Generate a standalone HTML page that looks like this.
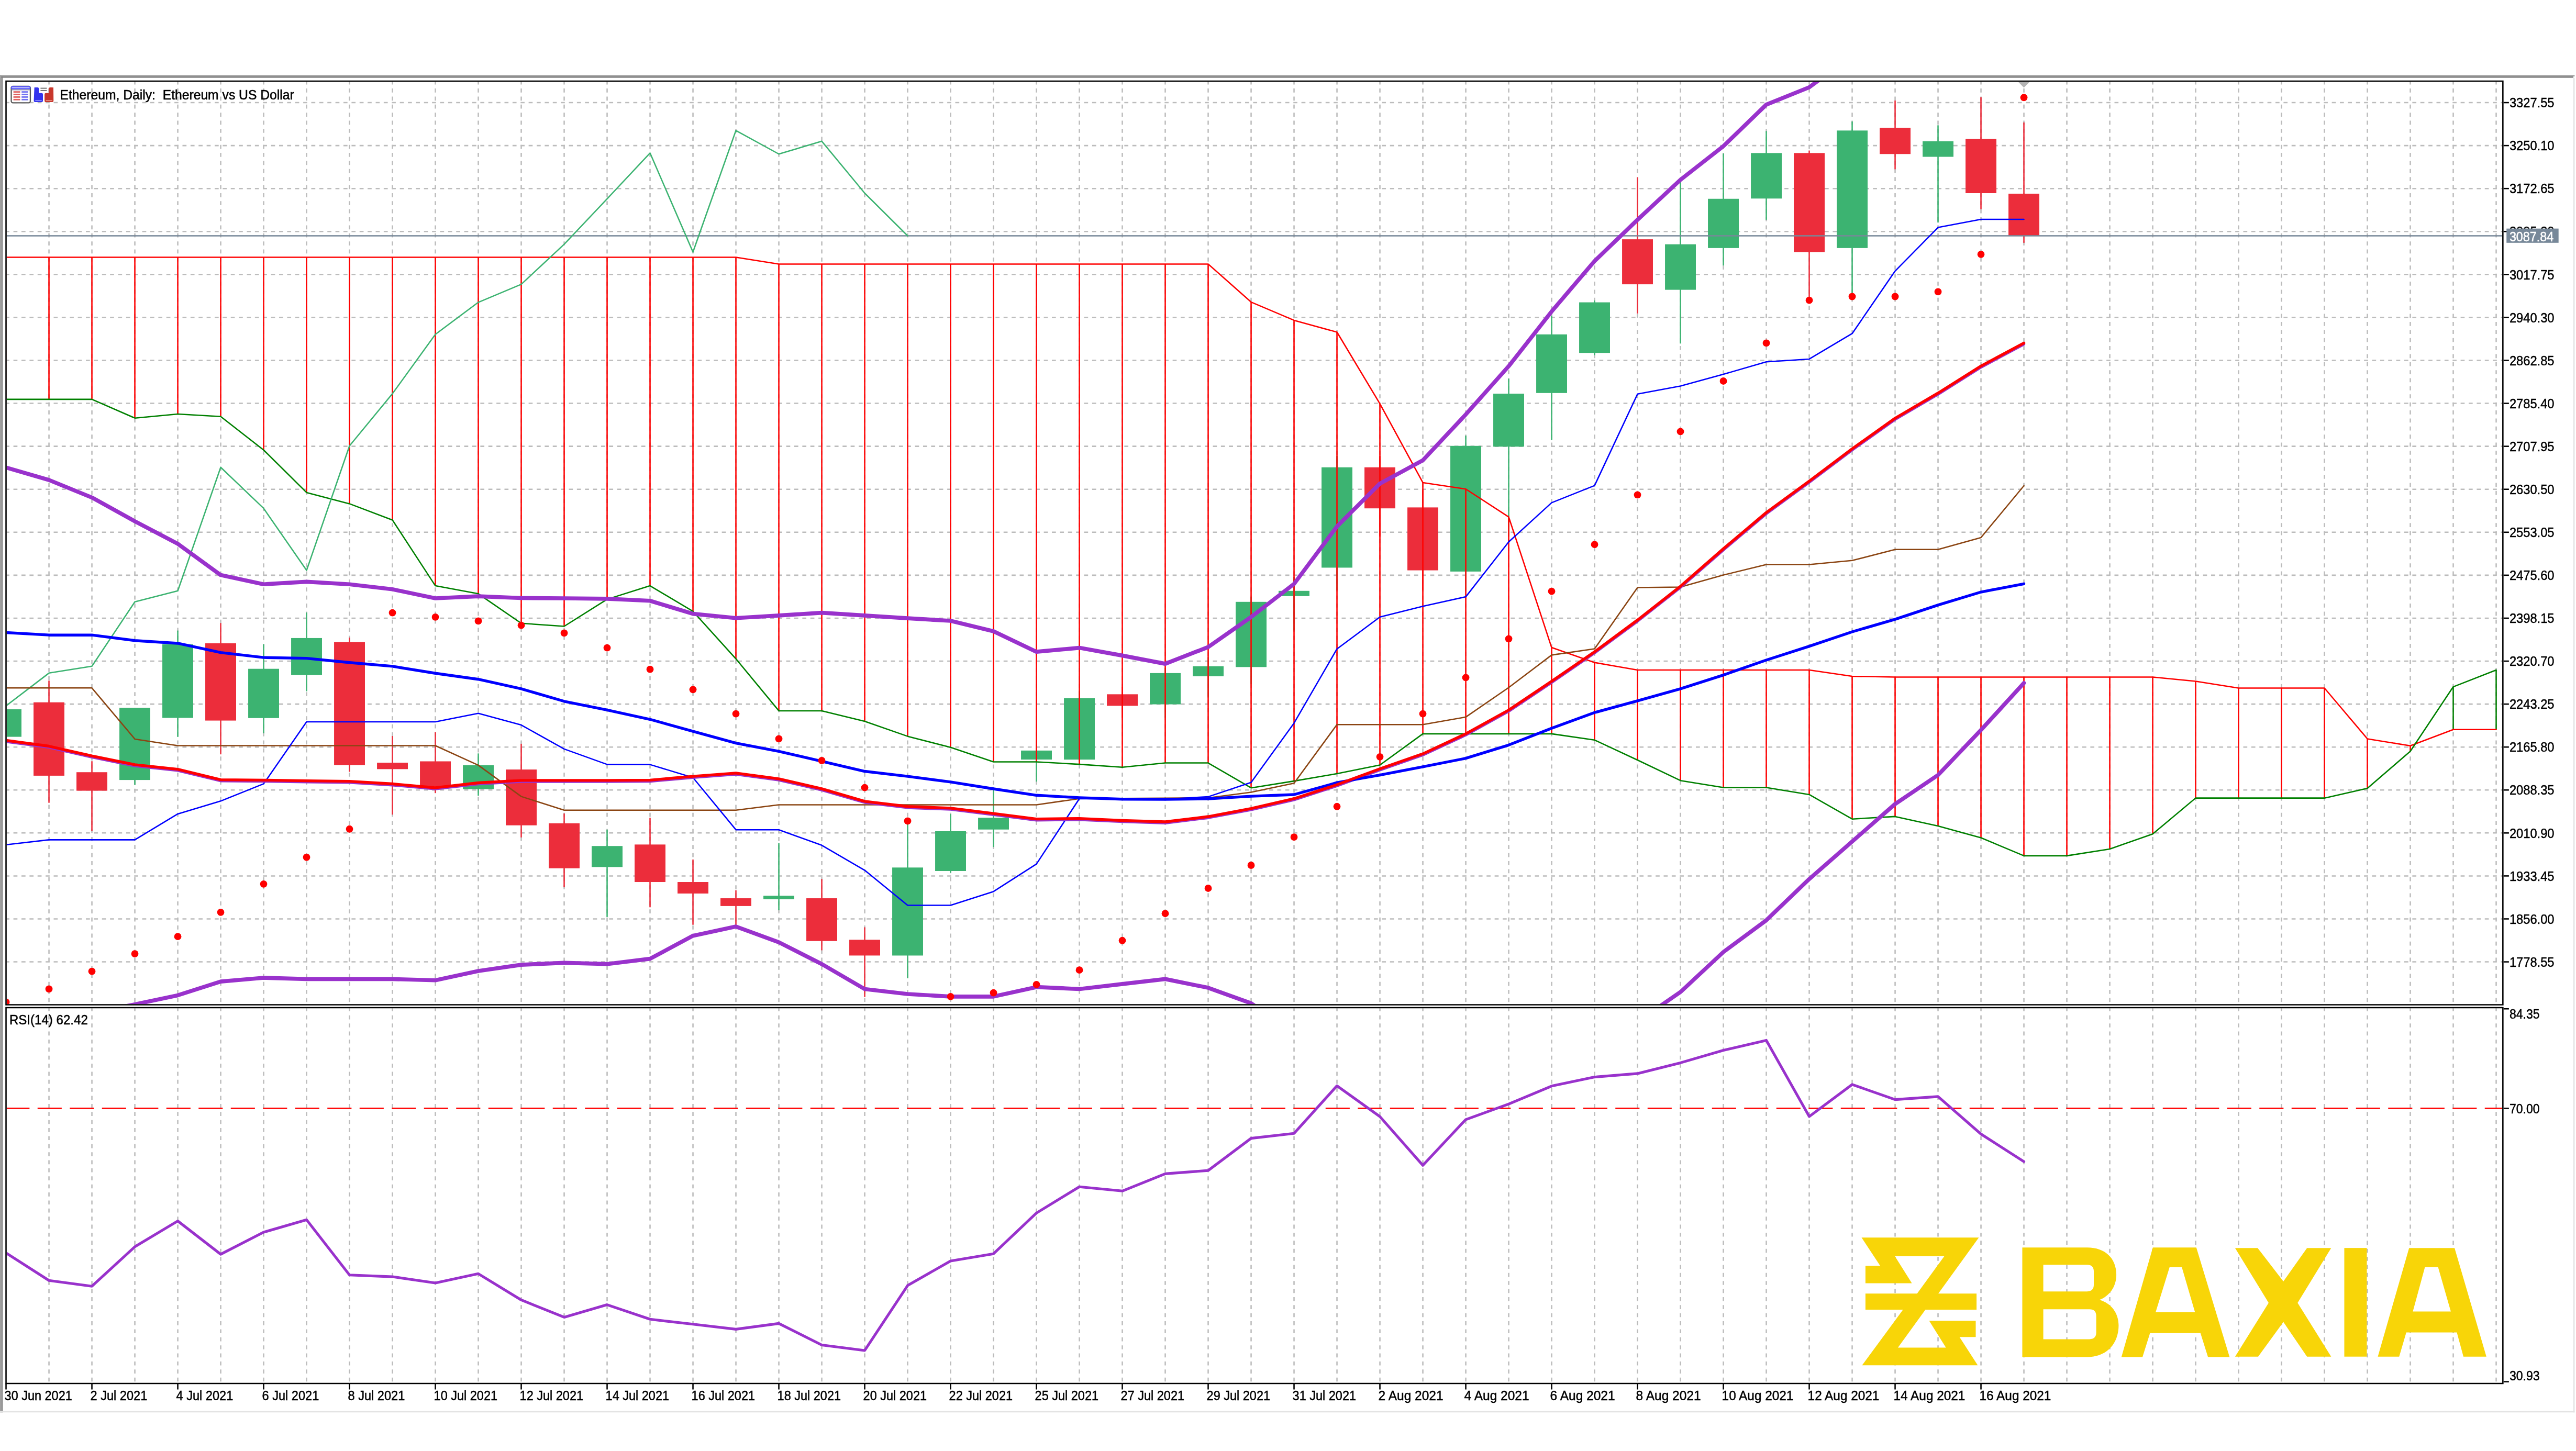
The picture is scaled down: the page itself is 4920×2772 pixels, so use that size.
<!DOCTYPE html>
<html><head><meta charset="utf-8"><title>Ethereum Daily</title>
<style>
html,body{margin:0;padding:0;background:#fff;}
body{width:4920px;height:2772px;overflow:hidden;}
svg{display:block;-webkit-font-smoothing:antialiased;will-change:transform;}
</style></head><body>
<svg width="4920" height="2772" viewBox="0 0 1920 1081.76" preserveAspectRatio="none">
<defs>
<clipPath id="cm"><rect x="5.0" y="61.0" width="1860.0" height="687.6"/></clipPath>
<clipPath id="cr"><rect x="5.0" y="751.7" width="1860.0" height="279.20000000000005"/></clipPath>
</defs>
<rect x="0" y="0" width="1920" height="1081.76" fill="#fff"/>
<rect x="0" y="56" width="1919" height="1" fill="#a0a0a0"/>
<rect x="0" y="57" width="1918" height="1" fill="#808080"/>
<rect x="0" y="56" width="1" height="997" fill="#a0a0a0"/>
<rect x="1" y="57" width="1" height="996" fill="#808080"/>
<rect x="1918" y="58" width="1" height="995" fill="#e3e3e3"/>
<rect x="0" y="1052" width="1919" height="1" fill="#e3e3e3"/>
<g clip-path="url(#cm)">
<path d="M4 76.5 H1865 M4 108.53 H1865 M4 140.56 H1865 M4 172.59 H1865 M4 204.62 H1865 M4 236.65 H1865 M4 268.68 H1865 M4 300.71 H1865 M4 332.74 H1865 M4 364.77 H1865 M4 396.8 H1865 M4 428.83 H1865 M4 460.86 H1865 M4 492.89 H1865 M4 524.92 H1865 M4 556.95 H1865 M4 588.98 H1865 M4 621.01 H1865 M4 653.04 H1865 M4 685.07 H1865 M4 717.1 H1865" stroke="#bcbcbc" stroke-width="1" stroke-dasharray="3 3" fill="none"/>
<path d="M36.5 60 V750 M68.5 60 V750 M100.5 60 V750 M132.5 60 V750 M164.5 60 V750 M196.5 60 V750 M228.5 60 V750 M260.5 60 V750 M292.5 60 V750 M324.5 60 V750 M356.5 60 V750 M388.5 60 V750 M420.5 60 V750 M452.5 60 V750 M484.5 60 V750 M516.5 60 V750 M548.5 60 V750 M580.5 60 V750 M612.5 60 V750 M644.5 60 V750 M676.5 60 V750 M708.5 60 V750 M740.5 60 V750 M772.5 60 V750 M804.5 60 V750 M836.5 60 V750 M868.5 60 V750 M900.5 60 V750 M932.5 60 V750 M964.5 60 V750 M996.5 60 V750 M1028.5 60 V750 M1060.5 60 V750 M1092.5 60 V750 M1124.5 60 V750 M1156.5 60 V750 M1188.5 60 V750 M1220.5 60 V750 M1252.5 60 V750 M1284.5 60 V750 M1316.5 60 V750 M1348.5 60 V750 M1380.5 60 V750 M1412.5 60 V750 M1444.5 60 V750 M1476.5 60 V750 M1508.5 60 V750 M1540.5 60 V750 M1572.5 60 V750 M1604.5 60 V750 M1636.5 60 V750 M1668.5 60 V750 M1700.5 60 V750 M1732.5 60 V750 M1764.5 60 V750 M1796.5 60 V750 M1828.5 60 V750 M1860.5 60 V750" stroke="#bcbcbc" stroke-width="1" stroke-dasharray="3 3" fill="none"/>
<rect x="4" y="528.8" width="1" height="20.5" fill="#3cb371"/>
<rect x="-7" y="528.8" width="23" height="20.5" fill="#3cb371"/>
<rect x="36" y="507.4" width="1" height="91.1" fill="#ec2d3b"/>
<rect x="25" y="523.6" width="23" height="54.7" fill="#ec2d3b"/>
<rect x="68" y="567.5" width="1" height="52.1" fill="#ec2d3b"/>
<rect x="57" y="575.7" width="23" height="13.8" fill="#ec2d3b"/>
<rect x="100" y="527.7" width="1" height="57.5" fill="#3cb371"/>
<rect x="89" y="527.7" width="23" height="53.8" fill="#3cb371"/>
<rect x="132" y="470.09" width="1" height="79.31" fill="#3cb371"/>
<rect x="121" y="480.34" width="23" height="54.86" fill="#3cb371"/>
<rect x="164" y="464.49" width="1" height="97.91" fill="#ec2d3b"/>
<rect x="153" y="479.59" width="23" height="57.61" fill="#ec2d3b"/>
<rect x="196" y="480.34" width="1" height="66.36" fill="#3cb371"/>
<rect x="185" y="498.61" width="23" height="36.72" fill="#3cb371"/>
<rect x="228" y="456.66" width="1" height="58.72" fill="#3cb371"/>
<rect x="217" y="475.68" width="23" height="27.59" fill="#3cb371"/>
<rect x="260" y="475.31" width="1" height="100.1" fill="#ec2d3b"/>
<rect x="249" y="478.66" width="23" height="91.71" fill="#ec2d3b"/>
<rect x="292" y="548.7" width="1" height="58.6" fill="#ec2d3b"/>
<rect x="281" y="568.6" width="23" height="4.8" fill="#ec2d3b"/>
<rect x="324" y="545.8" width="1" height="45.5" fill="#ec2d3b"/>
<rect x="313" y="567.6" width="23" height="18.6" fill="#ec2d3b"/>
<rect x="356" y="561.7" width="1" height="31.5" fill="#3cb371"/>
<rect x="345" y="570.5" width="23" height="17.8" fill="#3cb371"/>
<rect x="388" y="554.5" width="1" height="69.8" fill="#ec2d3b"/>
<rect x="377" y="573.7" width="23" height="41.6" fill="#ec2d3b"/>
<rect x="420" y="606.5" width="1" height="54.99" fill="#ec2d3b"/>
<rect x="409" y="613.77" width="23" height="33.55" fill="#ec2d3b"/>
<rect x="452" y="618.5" width="1" height="65.17" fill="#3cb371"/>
<rect x="441" y="630.73" width="23" height="15.66" fill="#3cb371"/>
<rect x="484" y="609.67" width="1" height="66.73" fill="#ec2d3b"/>
<rect x="473" y="629.61" width="23" height="27.96" fill="#ec2d3b"/>
<rect x="516" y="640.8" width="1" height="48.65" fill="#ec2d3b"/>
<rect x="505" y="657.57" width="23" height="8.57" fill="#ec2d3b"/>
<rect x="548" y="663.73" width="1" height="26.1" fill="#ec2d3b"/>
<rect x="537" y="669.69" width="23" height="5.78" fill="#ec2d3b"/>
<rect x="580" y="628.68" width="1" height="49.96" fill="#3cb371"/>
<rect x="569" y="667.83" width="23" height="2.61" fill="#3cb371"/>
<rect x="612" y="655.34" width="1" height="53.13" fill="#ec2d3b"/>
<rect x="601" y="669.69" width="23" height="31.88" fill="#ec2d3b"/>
<rect x="644" y="691.31" width="1" height="52.01" fill="#ec2d3b"/>
<rect x="633" y="700.63" width="23" height="11.74" fill="#ec2d3b"/>
<rect x="676" y="612.09" width="1" height="117.25" fill="#3cb371"/>
<rect x="665" y="646.76" width="23" height="65.62" fill="#3cb371"/>
<rect x="708" y="606.87" width="1" height="43.81" fill="#3cb371"/>
<rect x="697" y="619.7" width="23" height="29.67" fill="#3cb371"/>
<rect x="740" y="587" width="1" height="44.48" fill="#3cb371"/>
<rect x="729" y="609.67" width="23" height="8.76" fill="#3cb371"/>
<rect x="772" y="555" width="1" height="27.7" fill="#3cb371"/>
<rect x="761" y="559.56" width="23" height="6.71" fill="#3cb371"/>
<rect x="804" y="515" width="1" height="53" fill="#3cb371"/>
<rect x="793" y="520.5" width="23" height="45.8" fill="#3cb371"/>
<rect x="836" y="512" width="1" height="23" fill="#ec2d3b"/>
<rect x="825" y="517.6" width="23" height="8.6" fill="#ec2d3b"/>
<rect x="868" y="498" width="1" height="37" fill="#3cb371"/>
<rect x="857" y="501.8" width="23" height="23.3" fill="#3cb371"/>
<rect x="900" y="490" width="1" height="30" fill="#3cb371"/>
<rect x="889" y="496.7" width="23" height="7.5" fill="#3cb371"/>
<rect x="932" y="445" width="1" height="65" fill="#3cb371"/>
<rect x="921" y="448.7" width="23" height="48.6" fill="#3cb371"/>
<rect x="964" y="430" width="1" height="40" fill="#3cb371"/>
<rect x="953" y="440.5" width="23" height="3.9" fill="#3cb371"/>
<rect x="996" y="340" width="1" height="100" fill="#3cb371"/>
<rect x="985" y="348.4" width="23" height="74.8" fill="#3cb371"/>
<rect x="1028" y="340" width="1" height="60" fill="#ec2d3b"/>
<rect x="1017" y="348.4" width="23" height="30.6" fill="#ec2d3b"/>
<rect x="1060" y="365" width="1" height="75" fill="#ec2d3b"/>
<rect x="1049" y="378.3" width="23" height="46.9" fill="#ec2d3b"/>
<rect x="1092" y="324.8" width="1" height="115.2" fill="#3cb371"/>
<rect x="1081" y="332.4" width="23" height="93.7" fill="#3cb371"/>
<rect x="1124" y="282.3" width="1" height="117.7" fill="#3cb371"/>
<rect x="1113" y="293.5" width="23" height="39.5" fill="#3cb371"/>
<rect x="1156" y="235.4" width="1" height="92.8" fill="#3cb371"/>
<rect x="1145" y="249.3" width="23" height="43.7" fill="#3cb371"/>
<rect x="1188" y="224" width="1" height="40.8" fill="#3cb371"/>
<rect x="1177" y="225.4" width="23" height="37.7" fill="#3cb371"/>
<rect x="1220" y="132.17" width="1" height="101.59" fill="#ec2d3b"/>
<rect x="1209" y="178.4" width="23" height="33.55" fill="#ec2d3b"/>
<rect x="1252" y="134.96" width="1" height="121.16" fill="#3cb371"/>
<rect x="1241" y="182.12" width="23" height="33.93" fill="#3cb371"/>
<rect x="1284" y="114.46" width="1" height="83.51" fill="#3cb371"/>
<rect x="1273" y="148.2" width="23" height="36.72" fill="#3cb371"/>
<rect x="1316" y="97.68" width="1" height="66.17" fill="#3cb371"/>
<rect x="1305" y="114.09" width="23" height="33.93" fill="#3cb371"/>
<rect x="1348" y="112.22" width="1" height="110.35" fill="#ec2d3b"/>
<rect x="1337" y="114.09" width="23" height="73.82" fill="#ec2d3b"/>
<rect x="1380" y="90.6" width="1" height="129.18" fill="#3cb371"/>
<rect x="1369" y="97.31" width="23" height="87.61" fill="#3cb371"/>
<rect x="1412" y="74.94" width="1" height="51.26" fill="#ec2d3b"/>
<rect x="1401" y="95.26" width="23" height="19.57" fill="#ec2d3b"/>
<rect x="1444" y="93.4" width="1" height="72.5" fill="#3cb371"/>
<rect x="1433" y="105.3" width="23" height="11.6" fill="#3cb371"/>
<rect x="1476" y="72.5" width="1" height="83.5" fill="#ec2d3b"/>
<rect x="1465" y="103.6" width="23" height="40.4" fill="#ec2d3b"/>
<rect x="1508" y="91.3" width="1" height="89.7" fill="#ec2d3b"/>
<rect x="1497" y="144.4" width="23" height="31.4" fill="#ec2d3b"/>
<rect x="4" y="175.3" width="1862" height="1" fill="#778899"/>
<path d="M4.5 191.82 V297.7 M36.5 191.82 V297.7 M68.5 191.82 V297.7 M100.5 191.82 V311.68 M132.5 191.82 V308.7 M164.5 191.82 V310.56 M196.5 191.82 V335.5 M228.5 191.82 V367.19 M260.5 191.82 V375.58 M292.5 191.82 V387.69 M324.5 191.82 V436.72 M356.5 191.82 V442.68 M388.5 191.82 V464.68 M420.5 191.82 V466.92 M452.5 191.82 V446.79 M484.5 191.82 V436.72 M516.5 191.82 V455.73 M548.5 191.82 V491.15 M580.5 196.85 V529.92 M612.5 196.85 V529.92 M644.5 196.85 V537.75 M676.5 196.85 V548.94 M708.5 196.85 V557.2 M740.5 196.85 V568 M772.5 196.85 V568 M804.5 196.85 V569.8 M836.5 196.85 V572 M868.5 196.85 V568.8 M900.5 196.85 V568.8 M932.5 225.2 V587.4 M964.5 238.8 V582.3 M996.5 247.6 V576.8 M1028.5 301 V570.37 M1060.5 359.8 V547.07 M1092.5 364.6 V547.07 M1124.5 385.4 V547.07 M1156.5 482.76 V547.07 M1188.5 493.95 V551.73 M1220.5 499.54 V566.65 M1252.5 499.54 V581.93 M1284.5 499.54 V587.15 M1316.5 499.54 V587.15 M1348.5 499.54 V592.37 M1380.5 504.2 V610.6 M1412.5 504.76 V608.74 M1444.5 504.76 V615.82 M1476.5 504.76 V624.58 M1508.5 504.76 V638 M1540.5 504.76 V638 M1572.5 504.76 V632.97 M1604.5 504.76 V621.78 M1636.5 507.93 V594.98 M1668.5 512.96 V594.98 M1700.5 512.96 V594.98 M1732.5 512.96 V594.98 M1764.5 550.8 V587.71 M1796.5 556.02 V560.12" stroke="#ff0000" stroke-width="1" fill="none"/>
<path d="M1828.5 512.03 V543.9 M1860.5 499.54 V543.9" stroke="#008000" stroke-width="1" fill="none"/>
<polyline points="4.5,191.82 36.5,191.82 68.5,191.82 100.5,191.82 132.5,191.82 164.5,191.82 196.5,191.82 228.5,191.82 260.5,191.82 292.5,191.82 324.5,191.82 356.5,191.82 388.5,191.82 420.5,191.82 452.5,191.82 484.5,191.82 516.5,191.82 548.5,191.82 580.5,196.85 612.5,196.85 644.5,196.85 676.5,196.85 708.5,196.85 740.5,196.85 772.5,196.85 804.5,196.85 836.5,196.85 868.5,196.85 900.5,196.85 932.5,225.2 964.5,238.8 996.5,247.6 1028.5,301 1060.5,359.8 1092.5,364.6 1124.5,385.4 1156.5,482.76 1188.5,493.95 1220.5,499.54 1252.5,499.54 1284.5,499.54 1316.5,499.54 1348.5,499.54 1380.5,504.2 1412.5,504.76 1444.5,504.76 1476.5,504.76 1508.5,504.76 1540.5,504.76 1572.5,504.76 1604.5,504.76 1636.5,507.93 1668.5,512.96 1700.5,512.96 1732.5,512.96 1764.5,550.8 1796.5,556.02 1828.5,543.9 1860.5,543.9" fill="none" stroke="#ff0000" stroke-width="1" stroke-linejoin="round" stroke-linecap="round"/>
<polyline points="4.5,297.7 36.5,297.7 68.5,297.7 100.5,311.68 132.5,308.7 164.5,310.56 196.5,335.5 228.5,367.19 260.5,375.58 292.5,387.69 324.5,436.72 356.5,442.68 388.5,464.68 420.5,466.92 452.5,446.79 484.5,436.72 516.5,455.73 548.5,491.15 580.5,529.92 612.5,529.92 644.5,537.75 676.5,548.94 708.5,557.2 740.5,568 772.5,568 804.5,569.8 836.5,572 868.5,568.8 900.5,568.8 932.5,587.4 964.5,582.3 996.5,576.8 1028.5,570.37 1060.5,547.07 1092.5,547.07 1124.5,547.07 1156.5,547.07 1188.5,551.73 1220.5,566.65 1252.5,581.93 1284.5,587.15 1316.5,587.15 1348.5,592.37 1380.5,610.6 1412.5,608.74 1444.5,615.82 1476.5,624.58 1508.5,638 1540.5,638 1572.5,632.97 1604.5,621.78 1636.5,594.98 1668.5,594.98 1700.5,594.98 1732.5,594.98 1764.5,587.71 1796.5,560.12 1828.5,512.03 1860.5,499.54" fill="none" stroke="#008000" stroke-width="1" stroke-linejoin="round" stroke-linecap="round"/>
<polyline points="4.5,526.2 36.5,501.8 68.5,496.7 100.5,448.7 132.5,440.5 164.5,348.4 196.5,379 228.5,425.2 260.5,332.4 292.5,293.5 324.5,249.3 356.5,225.4 388.5,211.95 420.5,182.12 452.5,148.2 484.5,114.09 516.5,187.9 548.5,97.31 580.5,114.83 612.5,105.3 644.5,144 676.5,175.8" fill="none" stroke="#3cb371" stroke-width="1" stroke-linejoin="round" stroke-linecap="round"/>
<polyline points="4.5,512.9 36.5,512.9 68.5,512.9 100.5,551 132.5,555.9 164.5,555.9 196.5,555.9 228.5,555.9 260.5,555.9 292.5,555.9 324.5,555.9 356.5,570.5 388.5,593.8 420.5,604 452.5,604 484.5,604 516.5,604 548.5,604 580.5,600 612.5,600 644.5,600 676.5,600 708.5,600 740.5,600 772.5,600 804.5,595.4 836.5,595.2 868.5,595 900.5,594.8 932.5,590.6 964.5,583.9 996.5,540.2 1028.5,540.2 1060.5,540.2 1092.5,534.58 1124.5,512.59 1156.5,488.35 1188.5,483.69 1220.5,438.02 1252.5,437.65 1284.5,428.7 1316.5,420.87 1348.5,420.87 1380.5,417.89 1412.5,409.69 1444.5,409.69 1476.5,400.74 1508.5,362.16" fill="none" stroke="#8b4513" stroke-width="1" stroke-linejoin="round" stroke-linecap="round"/>
<polyline points="4.5,629.8 36.5,626.1 68.5,626.1 100.5,626.1 132.5,606.8 164.5,597.2 196.5,584.35 228.5,538.12 260.5,538.12 292.5,538.12 324.5,538.12 356.5,531.79 388.5,540.5 420.5,558.4 452.5,569.9 484.5,570 516.5,579.7 548.5,618.61 580.5,618.61 612.5,630.17 644.5,648.81 676.5,674.91 708.5,674.91 740.5,664.66 772.5,644.15 804.5,595.4 836.5,595.6 868.5,595.8 900.5,594 932.5,583.3 964.5,539.1 996.5,483.8 1028.5,460.02 1060.5,452 1092.5,444.92 1124.5,404 1156.5,374.8 1188.5,362 1220.5,293.8 1252.5,287.82 1284.5,279.06 1316.5,269.74 1348.5,267.69 1380.5,248.67 1412.5,202.07 1444.5,169.6 1476.5,163.5 1508.5,163.5" fill="none" stroke="#0000ff" stroke-width="1" stroke-linejoin="round" stroke-linecap="round"/>
<polyline points="4.5,348.55 36.5,357.87 68.5,370.92 100.5,388.63 132.5,405.4 164.5,428.7 196.5,435.6 228.5,433.74 260.5,435.6 292.5,439.33 324.5,446.04 356.5,444.55 388.5,445.85 420.5,446.04 452.5,446.41 484.5,447.9 516.5,457.6 548.5,460.77 580.5,458.9 612.5,456.85 644.5,458.9 676.5,460.95 708.5,462.82 740.5,470.65 772.5,485.93 804.5,482.95 836.5,488.73 868.5,494.88 900.5,482.39 932.5,460 964.5,435.3 996.5,392.5 1028.5,360.5 1060.5,343.2 1092.5,309 1124.5,273 1156.5,232.2 1188.5,194.61 1220.5,163.86 1252.5,134.03 1284.5,109 1316.5,78 1348.5,65.06 1380.5,41.4 1412.5,30 1444.5,22 1476.5,15 1508.5,10" fill="none" stroke="#9932cc" stroke-width="3" stroke-linejoin="round" stroke-linecap="round"/>
<polyline points="4.5,765 36.5,760 68.5,755 100.5,748.8 132.5,742.02 164.5,731.76 196.5,728.97 228.5,729.9 260.5,729.9 292.5,729.9 324.5,730.83 356.5,723.93 388.5,719.27 420.5,717.78 452.5,718.72 484.5,714.8 516.5,697.65 548.5,690.75 580.5,702.5 612.5,718.72 644.5,737.36 676.5,741.08 708.5,742.95 740.5,742.95 772.5,735.86 804.5,737.36 836.5,733.63 868.5,729.9 900.5,736.42 932.5,747.98 964.5,770 996.5,790 1028.5,800 1060.5,805 1092.5,805 1124.5,800 1156.5,790 1188.5,775 1220.5,761.7 1252.5,739.59 1284.5,709.77 1316.5,686.09 1348.5,655.34 1380.5,627.38 1412.5,599.41 1444.5,577.83 1476.5,544.28 1508.5,509.23" fill="none" stroke="#9932cc" stroke-width="3" stroke-linejoin="round" stroke-linecap="round"/>
<polyline points="4.5,552.9 36.5,557.2 68.5,564.5 100.5,571 132.5,574.4 164.5,582.2 196.5,582.5 228.5,583 260.5,583.4 292.5,585.3 324.5,588.2 356.5,584.5 388.5,582.7 420.5,582.7 452.5,582.7 484.5,582.5 516.5,579.66 548.5,577.24 580.5,581.53 612.5,588.98 644.5,598.3 676.5,602.18 708.5,603.4 740.5,607.4 772.5,611.5 804.5,611.1 836.5,612.6 868.5,613.6 900.5,609.7 932.5,603.7 964.5,596.3 996.5,585.9 1028.5,574.07 1060.5,562.88 1092.5,547.97 1124.5,530.26 1156.5,508.83 1188.5,486.83 1220.5,463.16 1252.5,437.99 1284.5,410.03 1316.5,383 1348.5,359.6 1380.5,335.5 1412.5,312.7 1444.5,293.94 1476.5,273.81 1508.5,256.66" fill="none" stroke="#9932cc" stroke-width="2" stroke-linejoin="round" stroke-linecap="round"/>
<polyline points="4.5,471.58 36.5,473.44 68.5,473.44 100.5,477.54 132.5,479.59 164.5,486.49 196.5,490.22 228.5,490.78 260.5,493.95 292.5,496.74 324.5,501.96 356.5,506.44 388.5,513.52 420.5,522.84 452.5,529.36 484.5,536.3 516.5,545.21 548.5,553.97 580.5,560.12 612.5,567.58 644.5,575.03 676.5,578.76 708.5,583 740.5,588.1 772.5,592.9 804.5,594.7 836.5,595.8 868.5,595.9 900.5,595.5 932.5,593.6 964.5,592.4 996.5,583.5 1028.5,577.83 1060.5,571.68 1092.5,565.34 1124.5,555.46 1156.5,542.97 1188.5,531.23 1220.5,522.47 1252.5,513.52 1284.5,503.27 1316.5,492.08 1348.5,481.83 1380.5,471.02 1412.5,461.7 1444.5,451.07 1476.5,441.38 1508.5,435.23" fill="none" stroke="#0000ff" stroke-width="2.1" stroke-linejoin="round" stroke-linecap="round"/>
<polyline points="4.5,552 36.5,556.3 68.5,563.6 100.5,570.1 132.5,573.5 164.5,581.3 196.5,581.6 228.5,582.1 260.5,582.5 292.5,584.4 324.5,587.3 356.5,583.6 388.5,581.8 420.5,581.8 452.5,581.8 484.5,581.6 516.5,578.76 548.5,576.34 580.5,580.63 612.5,588.08 644.5,597.4 676.5,601.28 708.5,602.5 740.5,606.5 772.5,610.6 804.5,610.2 836.5,611.7 868.5,612.7 900.5,608.8 932.5,602.8 964.5,595.4 996.5,585 1028.5,573.17 1060.5,561.98 1092.5,547.07 1124.5,529.36 1156.5,507.93 1188.5,485.93 1220.5,462.26 1252.5,437.09 1284.5,409.13 1316.5,382.1 1348.5,358.7 1380.5,334.6 1412.5,311.8 1444.5,293.04 1476.5,272.91 1508.5,255.76" fill="none" stroke="#ff0000" stroke-width="2.1" stroke-linejoin="round" stroke-linecap="round"/>
<circle cx="4.5" cy="747.1" r="2.7" fill="#ff0000"/>
<circle cx="36.5" cy="737.3" r="2.7" fill="#ff0000"/>
<circle cx="68.5" cy="724.12" r="2.7" fill="#ff0000"/>
<circle cx="100.5" cy="711.07" r="2.7" fill="#ff0000"/>
<circle cx="132.5" cy="698.21" r="2.7" fill="#ff0000"/>
<circle cx="164.5" cy="680.13" r="2.7" fill="#ff0000"/>
<circle cx="196.5" cy="659.07" r="2.7" fill="#ff0000"/>
<circle cx="228.5" cy="639.12" r="2.7" fill="#ff0000"/>
<circle cx="260.5" cy="618.06" r="2.7" fill="#ff0000"/>
<circle cx="292.5" cy="456.85" r="2.7" fill="#ff0000"/>
<circle cx="324.5" cy="460.02" r="2.7" fill="#ff0000"/>
<circle cx="356.5" cy="463" r="2.7" fill="#ff0000"/>
<circle cx="388.5" cy="466.17" r="2.7" fill="#ff0000"/>
<circle cx="420.5" cy="471.95" r="2.7" fill="#ff0000"/>
<circle cx="452.5" cy="482.95" r="2.7" fill="#ff0000"/>
<circle cx="484.5" cy="498.98" r="2.7" fill="#ff0000"/>
<circle cx="516.5" cy="514.08" r="2.7" fill="#ff0000"/>
<circle cx="548.5" cy="532.16" r="2.7" fill="#ff0000"/>
<circle cx="580.5" cy="550.8" r="2.7" fill="#ff0000"/>
<circle cx="612.5" cy="567.02" r="2.7" fill="#ff0000"/>
<circle cx="644.5" cy="587.15" r="2.7" fill="#ff0000"/>
<circle cx="676.5" cy="612.09" r="2.7" fill="#ff0000"/>
<circle cx="708.5" cy="742.95" r="2.7" fill="#ff0000"/>
<circle cx="740.5" cy="740.15" r="2.7" fill="#ff0000"/>
<circle cx="772.5" cy="734" r="2.7" fill="#ff0000"/>
<circle cx="804.5" cy="723.19" r="2.7" fill="#ff0000"/>
<circle cx="836.5" cy="701.19" r="2.7" fill="#ff0000"/>
<circle cx="868.5" cy="681.06" r="2.7" fill="#ff0000"/>
<circle cx="900.5" cy="662.23" r="2.7" fill="#ff0000"/>
<circle cx="932.5" cy="645.08" r="2.7" fill="#ff0000"/>
<circle cx="964.5" cy="624.02" r="2.7" fill="#ff0000"/>
<circle cx="996.5" cy="601.28" r="2.7" fill="#ff0000"/>
<circle cx="1028.5" cy="564.22" r="2.7" fill="#ff0000"/>
<circle cx="1060.5" cy="532.16" r="2.7" fill="#ff0000"/>
<circle cx="1092.5" cy="505.13" r="2.7" fill="#ff0000"/>
<circle cx="1124.5" cy="476.24" r="2.7" fill="#ff0000"/>
<circle cx="1156.5" cy="440.82" r="2.7" fill="#ff0000"/>
<circle cx="1188.5" cy="405.9" r="2.7" fill="#ff0000"/>
<circle cx="1220.5" cy="368.9" r="2.7" fill="#ff0000"/>
<circle cx="1252.5" cy="321.74" r="2.7" fill="#ff0000"/>
<circle cx="1284.5" cy="284.09" r="2.7" fill="#ff0000"/>
<circle cx="1316.5" cy="255.76" r="2.7" fill="#ff0000"/>
<circle cx="1348.5" cy="223.88" r="2.7" fill="#ff0000"/>
<circle cx="1380.5" cy="221.08" r="2.7" fill="#ff0000"/>
<circle cx="1412.5" cy="221.08" r="2.7" fill="#ff0000"/>
<circle cx="1444.5" cy="217.54" r="2.7" fill="#ff0000"/>
<circle cx="1476.5" cy="189.6" r="2.7" fill="#ff0000"/>
<circle cx="1508.5" cy="72.7" r="2.7" fill="#ff0000"/>
<path d="M1504.2 61 L1512.8 61 L1508.5 65.4 Z" fill="#b4b4b4"/>
</g>
<g clip-path="url(#cr)">
<path d="M36.5 751 V1032 M68.5 751 V1032 M100.5 751 V1032 M132.5 751 V1032 M164.5 751 V1032 M196.5 751 V1032 M228.5 751 V1032 M260.5 751 V1032 M292.5 751 V1032 M324.5 751 V1032 M356.5 751 V1032 M388.5 751 V1032 M420.5 751 V1032 M452.5 751 V1032 M484.5 751 V1032 M516.5 751 V1032 M548.5 751 V1032 M580.5 751 V1032 M612.5 751 V1032 M644.5 751 V1032 M676.5 751 V1032 M708.5 751 V1032 M740.5 751 V1032 M772.5 751 V1032 M804.5 751 V1032 M836.5 751 V1032 M868.5 751 V1032 M900.5 751 V1032 M932.5 751 V1032 M964.5 751 V1032 M996.5 751 V1032 M1028.5 751 V1032 M1060.5 751 V1032 M1092.5 751 V1032 M1124.5 751 V1032 M1156.5 751 V1032 M1188.5 751 V1032 M1220.5 751 V1032 M1252.5 751 V1032 M1284.5 751 V1032 M1316.5 751 V1032 M1348.5 751 V1032 M1380.5 751 V1032 M1412.5 751 V1032 M1444.5 751 V1032 M1476.5 751 V1032 M1508.5 751 V1032 M1540.5 751 V1032 M1572.5 751 V1032 M1604.5 751 V1032 M1636.5 751 V1032 M1668.5 751 V1032 M1700.5 751 V1032 M1732.5 751 V1032 M1764.5 751 V1032 M1796.5 751 V1032 M1828.5 751 V1032 M1860.5 751 V1032" stroke="#bcbcbc" stroke-width="1" stroke-dasharray="3 3" fill="none"/>
<path d="M4 826.3 H1865" stroke="#ff0000" stroke-width="1" stroke-dasharray="18 6" fill="none"/>
<polyline points="4.5,934.14 36.5,954.64 68.5,958.92 100.5,929.48 132.5,910.29 164.5,935.07 196.5,918.67 228.5,909.36 260.5,950.54 292.5,951.84 324.5,956.5 356.5,949.61 388.5,969.17 420.5,982.03 452.5,972.71 484.5,983.52 516.5,987.25 548.5,990.97 580.5,986.69 612.5,1002.71 644.5,1006.81 676.5,958.36 708.5,940.1 740.5,934.7 772.5,904.33 804.5,884.76 836.5,887.93 868.5,875.07 900.5,872.65 932.5,848.64 964.5,845 996.5,809.5 1028.5,832.42 1060.5,868.77 1092.5,834.66 1124.5,823.1 1156.5,809.68 1188.5,802.97 1220.5,800.36 1252.5,792.35 1284.5,783.03 1316.5,775.57 1348.5,832.42 1380.5,808.56 1412.5,819.75 1444.5,817.51 1476.5,845.47 1508.5,865.98" fill="none" stroke="#9932cc" stroke-width="2" stroke-linejoin="round" stroke-linecap="round"/>
</g>
<path d="M4.5 60.5 H1865.5 V749.1 H4.5 Z" stroke="#000" stroke-width="1" fill="none"/>
<path d="M4.5 751.2 H1865.5 V1031.4 H4.5 Z" stroke="#000" stroke-width="1" fill="none"/>
<rect x="1866" y="76" width="4" height="1" fill="#000"/>
<text x="1870.4" y="80.1" font-family="Liberation Sans, sans-serif" stroke="currentColor" stroke-width="0.2" font-size="9.7" fill="#000" color="#000" textLength="33.4" lengthAdjust="spacingAndGlyphs">3327.55</text>
<rect x="1866" y="108.03" width="4" height="1" fill="#000"/>
<text x="1870.4" y="112.13" font-family="Liberation Sans, sans-serif" stroke="currentColor" stroke-width="0.2" font-size="9.7" fill="#000" color="#000" textLength="33.4" lengthAdjust="spacingAndGlyphs">3250.10</text>
<rect x="1866" y="140.06" width="4" height="1" fill="#000"/>
<text x="1870.4" y="144.16" font-family="Liberation Sans, sans-serif" stroke="currentColor" stroke-width="0.2" font-size="9.7" fill="#000" color="#000" textLength="33.4" lengthAdjust="spacingAndGlyphs">3172.65</text>
<rect x="1866" y="172.09" width="4" height="1" fill="#000"/>
<text x="1870.4" y="176.19" font-family="Liberation Sans, sans-serif" stroke="currentColor" stroke-width="0.2" font-size="9.7" fill="#000" color="#000" textLength="33.4" lengthAdjust="spacingAndGlyphs">3095.20</text>
<rect x="1866" y="204.12" width="4" height="1" fill="#000"/>
<text x="1870.4" y="208.22" font-family="Liberation Sans, sans-serif" stroke="currentColor" stroke-width="0.2" font-size="9.7" fill="#000" color="#000" textLength="33.4" lengthAdjust="spacingAndGlyphs">3017.75</text>
<rect x="1866" y="236.15" width="4" height="1" fill="#000"/>
<text x="1870.4" y="240.25" font-family="Liberation Sans, sans-serif" stroke="currentColor" stroke-width="0.2" font-size="9.7" fill="#000" color="#000" textLength="33.4" lengthAdjust="spacingAndGlyphs">2940.30</text>
<rect x="1866" y="268.18" width="4" height="1" fill="#000"/>
<text x="1870.4" y="272.28" font-family="Liberation Sans, sans-serif" stroke="currentColor" stroke-width="0.2" font-size="9.7" fill="#000" color="#000" textLength="33.4" lengthAdjust="spacingAndGlyphs">2862.85</text>
<rect x="1866" y="300.21" width="4" height="1" fill="#000"/>
<text x="1870.4" y="304.31" font-family="Liberation Sans, sans-serif" stroke="currentColor" stroke-width="0.2" font-size="9.7" fill="#000" color="#000" textLength="33.4" lengthAdjust="spacingAndGlyphs">2785.40</text>
<rect x="1866" y="332.24" width="4" height="1" fill="#000"/>
<text x="1870.4" y="336.34" font-family="Liberation Sans, sans-serif" stroke="currentColor" stroke-width="0.2" font-size="9.7" fill="#000" color="#000" textLength="33.4" lengthAdjust="spacingAndGlyphs">2707.95</text>
<rect x="1866" y="364.27" width="4" height="1" fill="#000"/>
<text x="1870.4" y="368.37" font-family="Liberation Sans, sans-serif" stroke="currentColor" stroke-width="0.2" font-size="9.7" fill="#000" color="#000" textLength="33.4" lengthAdjust="spacingAndGlyphs">2630.50</text>
<rect x="1866" y="396.3" width="4" height="1" fill="#000"/>
<text x="1870.4" y="400.4" font-family="Liberation Sans, sans-serif" stroke="currentColor" stroke-width="0.2" font-size="9.7" fill="#000" color="#000" textLength="33.4" lengthAdjust="spacingAndGlyphs">2553.05</text>
<rect x="1866" y="428.33" width="4" height="1" fill="#000"/>
<text x="1870.4" y="432.43" font-family="Liberation Sans, sans-serif" stroke="currentColor" stroke-width="0.2" font-size="9.7" fill="#000" color="#000" textLength="33.4" lengthAdjust="spacingAndGlyphs">2475.60</text>
<rect x="1866" y="460.36" width="4" height="1" fill="#000"/>
<text x="1870.4" y="464.46" font-family="Liberation Sans, sans-serif" stroke="currentColor" stroke-width="0.2" font-size="9.7" fill="#000" color="#000" textLength="33.4" lengthAdjust="spacingAndGlyphs">2398.15</text>
<rect x="1866" y="492.39" width="4" height="1" fill="#000"/>
<text x="1870.4" y="496.49" font-family="Liberation Sans, sans-serif" stroke="currentColor" stroke-width="0.2" font-size="9.7" fill="#000" color="#000" textLength="33.4" lengthAdjust="spacingAndGlyphs">2320.70</text>
<rect x="1866" y="524.42" width="4" height="1" fill="#000"/>
<text x="1870.4" y="528.52" font-family="Liberation Sans, sans-serif" stroke="currentColor" stroke-width="0.2" font-size="9.7" fill="#000" color="#000" textLength="33.4" lengthAdjust="spacingAndGlyphs">2243.25</text>
<rect x="1866" y="556.45" width="4" height="1" fill="#000"/>
<text x="1870.4" y="560.55" font-family="Liberation Sans, sans-serif" stroke="currentColor" stroke-width="0.2" font-size="9.7" fill="#000" color="#000" textLength="33.4" lengthAdjust="spacingAndGlyphs">2165.80</text>
<rect x="1866" y="588.48" width="4" height="1" fill="#000"/>
<text x="1870.4" y="592.58" font-family="Liberation Sans, sans-serif" stroke="currentColor" stroke-width="0.2" font-size="9.7" fill="#000" color="#000" textLength="33.4" lengthAdjust="spacingAndGlyphs">2088.35</text>
<rect x="1866" y="620.51" width="4" height="1" fill="#000"/>
<text x="1870.4" y="624.61" font-family="Liberation Sans, sans-serif" stroke="currentColor" stroke-width="0.2" font-size="9.7" fill="#000" color="#000" textLength="33.4" lengthAdjust="spacingAndGlyphs">2010.90</text>
<rect x="1866" y="652.54" width="4" height="1" fill="#000"/>
<text x="1870.4" y="656.64" font-family="Liberation Sans, sans-serif" stroke="currentColor" stroke-width="0.2" font-size="9.7" fill="#000" color="#000" textLength="33.4" lengthAdjust="spacingAndGlyphs">1933.45</text>
<rect x="1866" y="684.57" width="4" height="1" fill="#000"/>
<text x="1870.4" y="688.67" font-family="Liberation Sans, sans-serif" stroke="currentColor" stroke-width="0.2" font-size="9.7" fill="#000" color="#000" textLength="33.4" lengthAdjust="spacingAndGlyphs">1856.00</text>
<rect x="1866" y="716.6" width="4" height="1" fill="#000"/>
<text x="1870.4" y="720.7" font-family="Liberation Sans, sans-serif" stroke="currentColor" stroke-width="0.2" font-size="9.7" fill="#000" color="#000" textLength="33.4" lengthAdjust="spacingAndGlyphs">1778.55</text>
<rect x="1868.2" y="170.4" width="38.8" height="10.6" fill="#778899"/>
<text x="1870.4" y="179.9" font-family="Liberation Sans, sans-serif" stroke="currentColor" stroke-width="0.2" font-size="9.7" fill="#fff" color="#fff" textLength="32.9" lengthAdjust="spacingAndGlyphs">3087.84</text>
<rect x="1866" y="751.6" width="4" height="1" fill="#000"/>
<text x="1870.4" y="759.6" font-family="Liberation Sans, sans-serif" stroke="currentColor" stroke-width="0.2" font-size="9.7" fill="#000" color="#000" textLength="22.5" lengthAdjust="spacingAndGlyphs">84.35</text>
<rect x="1866" y="825.8" width="4" height="1" fill="#000"/>
<text x="1870.4" y="829.9" font-family="Liberation Sans, sans-serif" stroke="currentColor" stroke-width="0.2" font-size="9.7" fill="#000" color="#000" textLength="22.5" lengthAdjust="spacingAndGlyphs">70.00</text>
<rect x="1866" y="1029.6" width="4" height="1" fill="#000"/>
<text x="1870.4" y="1029.1" font-family="Liberation Sans, sans-serif" stroke="currentColor" stroke-width="0.2" font-size="9.7" fill="#000" color="#000" textLength="22.5" lengthAdjust="spacingAndGlyphs">30.93</text>
<rect x="4" y="1031.5" width="1" height="4.4" fill="#000"/>
<text x="3.35" y="1044.1" font-family="Liberation Sans, sans-serif" stroke="currentColor" stroke-width="0.2" font-size="9.7" fill="#000" color="#000" textLength="50.4" lengthAdjust="spacingAndGlyphs">30 Jun 2021</text>
<rect x="68" y="1031.5" width="1" height="4.4" fill="#000"/>
<text x="67.35" y="1044.1" font-family="Liberation Sans, sans-serif" stroke="currentColor" stroke-width="0.2" font-size="9.7" fill="#000" color="#000" textLength="42.4" lengthAdjust="spacingAndGlyphs">2 Jul 2021</text>
<rect x="132" y="1031.5" width="1" height="4.4" fill="#000"/>
<text x="131.35" y="1044.1" font-family="Liberation Sans, sans-serif" stroke="currentColor" stroke-width="0.2" font-size="9.7" fill="#000" color="#000" textLength="42.4" lengthAdjust="spacingAndGlyphs">4 Jul 2021</text>
<rect x="196" y="1031.5" width="1" height="4.4" fill="#000"/>
<text x="195.35" y="1044.1" font-family="Liberation Sans, sans-serif" stroke="currentColor" stroke-width="0.2" font-size="9.7" fill="#000" color="#000" textLength="42.4" lengthAdjust="spacingAndGlyphs">6 Jul 2021</text>
<rect x="260" y="1031.5" width="1" height="4.4" fill="#000"/>
<text x="259.35" y="1044.1" font-family="Liberation Sans, sans-serif" stroke="currentColor" stroke-width="0.2" font-size="9.7" fill="#000" color="#000" textLength="42.4" lengthAdjust="spacingAndGlyphs">8 Jul 2021</text>
<rect x="324" y="1031.5" width="1" height="4.4" fill="#000"/>
<text x="323.35" y="1044.1" font-family="Liberation Sans, sans-serif" stroke="currentColor" stroke-width="0.2" font-size="9.7" fill="#000" color="#000" textLength="47.4" lengthAdjust="spacingAndGlyphs">10 Jul 2021</text>
<rect x="388" y="1031.5" width="1" height="4.4" fill="#000"/>
<text x="387.35" y="1044.1" font-family="Liberation Sans, sans-serif" stroke="currentColor" stroke-width="0.2" font-size="9.7" fill="#000" color="#000" textLength="47.4" lengthAdjust="spacingAndGlyphs">12 Jul 2021</text>
<rect x="452" y="1031.5" width="1" height="4.4" fill="#000"/>
<text x="451.35" y="1044.1" font-family="Liberation Sans, sans-serif" stroke="currentColor" stroke-width="0.2" font-size="9.7" fill="#000" color="#000" textLength="47.4" lengthAdjust="spacingAndGlyphs">14 Jul 2021</text>
<rect x="516" y="1031.5" width="1" height="4.4" fill="#000"/>
<text x="515.35" y="1044.1" font-family="Liberation Sans, sans-serif" stroke="currentColor" stroke-width="0.2" font-size="9.7" fill="#000" color="#000" textLength="47.4" lengthAdjust="spacingAndGlyphs">16 Jul 2021</text>
<rect x="580" y="1031.5" width="1" height="4.4" fill="#000"/>
<text x="579.35" y="1044.1" font-family="Liberation Sans, sans-serif" stroke="currentColor" stroke-width="0.2" font-size="9.7" fill="#000" color="#000" textLength="47.4" lengthAdjust="spacingAndGlyphs">18 Jul 2021</text>
<rect x="644" y="1031.5" width="1" height="4.4" fill="#000"/>
<text x="643.35" y="1044.1" font-family="Liberation Sans, sans-serif" stroke="currentColor" stroke-width="0.2" font-size="9.7" fill="#000" color="#000" textLength="47.4" lengthAdjust="spacingAndGlyphs">20 Jul 2021</text>
<rect x="708" y="1031.5" width="1" height="4.4" fill="#000"/>
<text x="707.35" y="1044.1" font-family="Liberation Sans, sans-serif" stroke="currentColor" stroke-width="0.2" font-size="9.7" fill="#000" color="#000" textLength="47.4" lengthAdjust="spacingAndGlyphs">22 Jul 2021</text>
<rect x="772" y="1031.5" width="1" height="4.4" fill="#000"/>
<text x="771.35" y="1044.1" font-family="Liberation Sans, sans-serif" stroke="currentColor" stroke-width="0.2" font-size="9.7" fill="#000" color="#000" textLength="47.4" lengthAdjust="spacingAndGlyphs">25 Jul 2021</text>
<rect x="836" y="1031.5" width="1" height="4.4" fill="#000"/>
<text x="835.35" y="1044.1" font-family="Liberation Sans, sans-serif" stroke="currentColor" stroke-width="0.2" font-size="9.7" fill="#000" color="#000" textLength="47.4" lengthAdjust="spacingAndGlyphs">27 Jul 2021</text>
<rect x="900" y="1031.5" width="1" height="4.4" fill="#000"/>
<text x="899.35" y="1044.1" font-family="Liberation Sans, sans-serif" stroke="currentColor" stroke-width="0.2" font-size="9.7" fill="#000" color="#000" textLength="47.4" lengthAdjust="spacingAndGlyphs">29 Jul 2021</text>
<rect x="964" y="1031.5" width="1" height="4.4" fill="#000"/>
<text x="963.35" y="1044.1" font-family="Liberation Sans, sans-serif" stroke="currentColor" stroke-width="0.2" font-size="9.7" fill="#000" color="#000" textLength="47.4" lengthAdjust="spacingAndGlyphs">31 Jul 2021</text>
<rect x="1028" y="1031.5" width="1" height="4.4" fill="#000"/>
<text x="1027.35" y="1044.1" font-family="Liberation Sans, sans-serif" stroke="currentColor" stroke-width="0.2" font-size="9.7" fill="#000" color="#000" textLength="48.4" lengthAdjust="spacingAndGlyphs">2 Aug 2021</text>
<rect x="1092" y="1031.5" width="1" height="4.4" fill="#000"/>
<text x="1091.35" y="1044.1" font-family="Liberation Sans, sans-serif" stroke="currentColor" stroke-width="0.2" font-size="9.7" fill="#000" color="#000" textLength="48.4" lengthAdjust="spacingAndGlyphs">4 Aug 2021</text>
<rect x="1156" y="1031.5" width="1" height="4.4" fill="#000"/>
<text x="1155.35" y="1044.1" font-family="Liberation Sans, sans-serif" stroke="currentColor" stroke-width="0.2" font-size="9.7" fill="#000" color="#000" textLength="48.4" lengthAdjust="spacingAndGlyphs">6 Aug 2021</text>
<rect x="1220" y="1031.5" width="1" height="4.4" fill="#000"/>
<text x="1219.35" y="1044.1" font-family="Liberation Sans, sans-serif" stroke="currentColor" stroke-width="0.2" font-size="9.7" fill="#000" color="#000" textLength="48.4" lengthAdjust="spacingAndGlyphs">8 Aug 2021</text>
<rect x="1284" y="1031.5" width="1" height="4.4" fill="#000"/>
<text x="1283.35" y="1044.1" font-family="Liberation Sans, sans-serif" stroke="currentColor" stroke-width="0.2" font-size="9.7" fill="#000" color="#000" textLength="53.4" lengthAdjust="spacingAndGlyphs">10 Aug 2021</text>
<rect x="1348" y="1031.5" width="1" height="4.4" fill="#000"/>
<text x="1347.35" y="1044.1" font-family="Liberation Sans, sans-serif" stroke="currentColor" stroke-width="0.2" font-size="9.7" fill="#000" color="#000" textLength="53.4" lengthAdjust="spacingAndGlyphs">12 Aug 2021</text>
<rect x="1412" y="1031.5" width="1" height="4.4" fill="#000"/>
<text x="1411.35" y="1044.1" font-family="Liberation Sans, sans-serif" stroke="currentColor" stroke-width="0.2" font-size="9.7" fill="#000" color="#000" textLength="53.4" lengthAdjust="spacingAndGlyphs">14 Aug 2021</text>
<rect x="1476" y="1031.5" width="1" height="4.4" fill="#000"/>
<text x="1475.35" y="1044.1" font-family="Liberation Sans, sans-serif" stroke="currentColor" stroke-width="0.2" font-size="9.7" fill="#000" color="#000" textLength="53.4" lengthAdjust="spacingAndGlyphs">16 Aug 2021</text>
<text x="44.7" y="74.1" font-family="Liberation Sans, sans-serif" stroke="currentColor" stroke-width="0.2" font-size="9.7" fill="#000" xml:space="preserve" textLength="174.5" lengthAdjust="spacingAndGlyphs">Ethereum, Daily:  Ethereum vs US Dollar</text>
<text x="7.0" y="763.6" font-family="Liberation Sans, sans-serif" stroke="currentColor" stroke-width="0.2" font-size="9.7" fill="#000" color="#000" textLength="58.5" lengthAdjust="spacingAndGlyphs">RSI(14) 62.42</text>
<g>
<rect x="8.4" y="64.4" width="14.2" height="12.2" rx="1.2" fill="#fff" stroke="#5a5a5a" stroke-width="0.9"/>
<rect x="8.2" y="64.2" width="14.6" height="2.3" rx="1" fill="#5b5bff"/>
<rect x="9" y="65" width="13" height="0.7" fill="#c8c8ff"/>
<rect x="8.6" y="66.5" width="13.8" height="0.8" fill="#8a8ab0"/>
<rect x="10" y="68.0" width="5" height="1.1" fill="#e06060"/>
<rect x="16.1" y="68.0" width="4.8" height="1.1" fill="#7070f0"/>
<rect x="10" y="69.9" width="5" height="1.1" fill="#e06060"/>
<rect x="16.1" y="69.9" width="4.8" height="1.1" fill="#7070f0"/>
<rect x="10" y="71.8" width="5" height="1.1" fill="#e06060"/>
<rect x="16.1" y="71.8" width="4.8" height="1.1" fill="#7070f0"/>
<rect x="10" y="73.7" width="5" height="1.1" fill="#e06060"/>
<rect x="16.1" y="73.7" width="4.8" height="1.1" fill="#7070f0"/>
<path d="M25.6 65.6 Q25.2 65.2 26.4 65.2 H28 Q29 65.2 29 66.4 V69.4 H31 Q32 69.4 32 70.6 V75 Q32 76.1 31 76.1 H26.3 Q25.2 76.1 25.2 75 Z" fill="#3434ee"/>
<path d="M39.8 65.6 Q40.2 65.2 38.8 65.2 H37.4 Q36.3 65.2 36.3 66.4 V69.4 H34.2 Q33.2 69.4 33.2 70.6 V75 Q33.2 76.1 34.2 76.1 H38.8 Q39.9 76.1 39.9 75 Z" fill="#c8372c"/>
<rect x="26.3" y="74.6" width="4.8" height="0.6" fill="#9a9aff"/>
<rect x="34.2" y="74.6" width="4.8" height="0.6" fill="#e89a90"/>
<rect x="30.2" y="65.4" width="4.7" height="0.8" fill="#777"/>
<rect x="30.2" y="67.1" width="4.7" height="0.8" fill="#777"/>
</g>
<path d="M1387.5 922.6 L1474.9 922.6 L1444.7 964.4 L1473.2 964.4 L1473.2 976.4 L1435.1 976.4 L1414.6 1004.7 L1450.4 1004.7 L1437.9 984.7 L1472.6 984.7 L1472.6 996.8 L1460.5 996.8 L1474.1 1017.9 L1387.9 1017.9 L1418.4 976.4 L1390.4 976.4 L1390.4 964.4 L1428.9 964.4 L1449.2 936.5 L1412.3 936.5 L1425 956.7 L1390.4 956.7 L1390.4 943.7 L1401.4 943.7 Z" fill="#f8d508"/>
<path d="M1507.3 930.05 H1555.7 C1569 930.05 1577.4 938 1577.4 950.3 C1577.4 960 1571.5 966.5 1564.8 969.1 C1573.5 971.5 1579.1 979 1579.1 988 C1579.1 1002 1570 1011.7 1555.7 1011.7 H1507.3 Z M1522.95 942.95 V962.8 H1555.6 Q1560.6 962.8 1560.6 957.8 V947.95 Q1560.6 942.95 1555.6 942.95 Z M1522.95 976.1 V998.4 H1557.4 Q1562.4 998.4 1562.4 993.4 V981.1 Q1562.4 976.1 1557.4 976.1 Z" fill="#f8d508" fill-rule="evenodd"/>
<path d="M1581.2 1011.7 L1604.6 930.05 L1637 930.05 L1661.8 1011.7 L1645.7 1011.7 L1640.1 993.9 L1602.5 993.9 L1596.9 1011.7 Z M1617.1 944.7 L1626.2 944.7 L1636 978.2 L1606.7 978.2 Z" fill="#f8d508" fill-rule="evenodd"/>
<path d="M1665.9 930.4 L1682.7 930.4 L1701.9 955.3 L1719.5 930.4 L1737.5 930.4 L1712.5 971.3 L1737.5 1011.4 L1719.5 1011.4 L1701.9 985.6 L1683.1 1011.4 L1665.9 1011.4 L1690.9 971.3 Z" fill="#f8d508"/>
<rect x="1747.3" y="930.4" width="16.8" height="81" fill="#f8d508"/>
<path d="M1772.3 1011.4 L1795.6 930.4 L1829.5 930.4 L1853.2 1011.4 L1836.1 1011.4 L1831.2 993.4 L1793.5 993.4 L1788.2 1011.4 Z M1807.4 944.7 L1817.2 944.7 L1826.7 977.8 L1798.4 977.8 Z" fill="#f8d508" fill-rule="evenodd"/>
</svg>
</body></html>
